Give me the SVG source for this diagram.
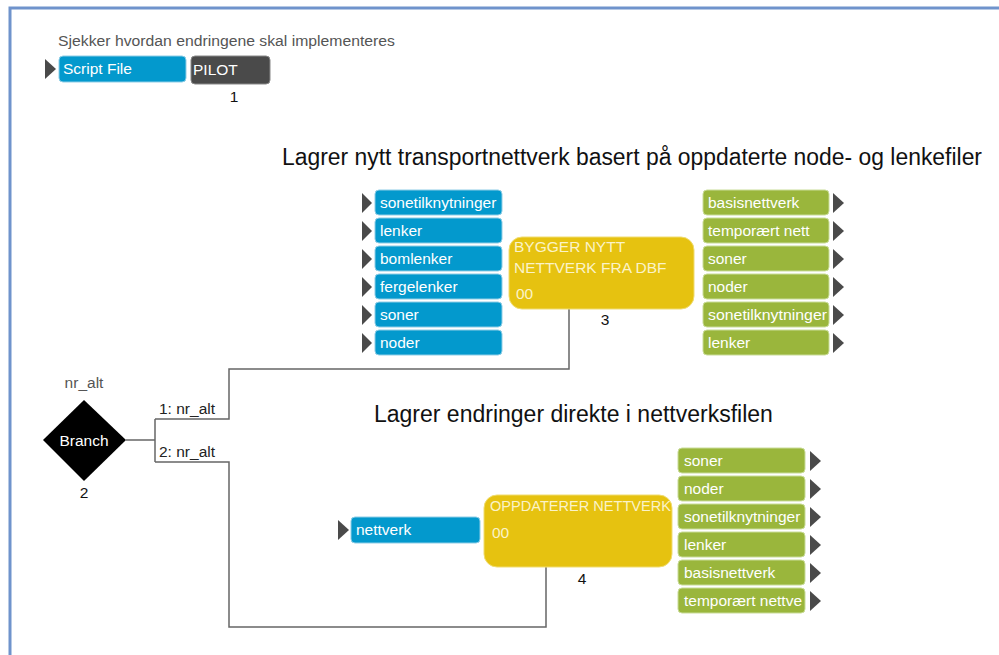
<svg xmlns="http://www.w3.org/2000/svg" width="999" height="655" viewBox="0 0 999 655">
<defs>
<style>
text{font-family:"Liberation Sans",Arial,sans-serif}
.frame{stroke:#6f93cc;stroke-width:3;fill:none}
.in{fill:#0399cd;stroke:#8fcde6;stroke-width:1}
.out{fill:#9ab63c;stroke:#c9dc98;stroke-width:1}
.proc{fill:#e6c210;stroke:#f0dc70;stroke-width:1}
.pilot{fill:#4a4a4a;stroke:#888;stroke-width:1}
.arr{fill:#4a4a4a}
.bt{fill:#fff;font-size:15.5px}
.pt{fill:#fbf3c8;font-size:15.5px}
.lbl{fill:#555;font-size:15.5px}
.num{fill:#111;font-size:15.5px;text-anchor:middle}
.title{fill:#111;font-size:23px}
.conn{stroke:#666;stroke-width:1.5;fill:none}
</style>
<clipPath id="clipT"><rect x="678" y="588" width="127" height="25"/></clipPath>
</defs>
<polyline class="frame" points="10,655 10,8 999,8"/>

<g id="connectors">
<polyline class="conn" points="126,440 155,440"/>
<polyline class="conn" points="155,419 155,462"/>
<polyline class="conn" points="155,419 229,419 229,369 569,369 569,309"/>
<polyline class="conn" points="155,462 229,462 229,627 546,627 546,567"/>
<text class="lbl" x="159" y="414" style="fill:#222">1: nr_alt</text>
<text class="lbl" x="159" y="457" style="fill:#222">2: nr_alt</text>
</g>

<g id="node1">
<text class="lbl" x="58" y="46" textLength="337" lengthAdjust="spacingAndGlyphs">Sjekker hvordan endringene skal implementeres</text>
<polygon class="arr" points="45,59 56,69 45,79"/>
<rect class="in" x="59" y="56" width="127" height="26" rx="4"/>
<text class="bt" x="63" y="74">Script File</text>
<rect class="pilot" x="191" y="56" width="79" height="28" rx="4"/>
<text class="bt" x="193" y="75">PILOT</text>
<text class="num" x="234" y="102">1</text>
</g>

<g id="node3">
<text class="title" x="282" y="165" textLength="700" lengthAdjust="spacingAndGlyphs">Lagrer nytt transportnettverk basert på oppdaterte node- og lenkefiler</text>
<polygon class="arr" points="362,193 372,203 362,213"/>
<rect class="in" x="375" y="190" width="127" height="25" rx="4"/>
<text class="bt" x="380" y="208">sonetilknytninger</text>
<polygon class="arr" points="362,221 372,231 362,241"/>
<rect class="in" x="375" y="218" width="127" height="25" rx="4"/>
<text class="bt" x="380" y="236">lenker</text>
<polygon class="arr" points="362,249 372,259 362,269"/>
<rect class="in" x="375" y="246" width="127" height="25" rx="4"/>
<text class="bt" x="380" y="264">bomlenker</text>
<polygon class="arr" points="362,277 372,287 362,297"/>
<rect class="in" x="375" y="274" width="127" height="25" rx="4"/>
<text class="bt" x="380" y="292">fergelenker</text>
<polygon class="arr" points="362,305 372,315 362,325"/>
<rect class="in" x="375" y="302" width="127" height="25" rx="4"/>
<text class="bt" x="380" y="320">soner</text>
<polygon class="arr" points="362,333 372,343 362,353"/>
<rect class="in" x="375" y="330" width="127" height="25" rx="4"/>
<text class="bt" x="380" y="348">noder</text>

<rect class="proc" x="509" y="237" width="185" height="72" rx="13"/>
<text class="pt" x="514" y="252">BYGGER NYTT</text>
<text class="pt" x="514" y="273">NETTVERK FRA DBF</text>
<text class="pt" x="516" y="299">00</text>
<text class="num" x="605" y="325">3</text>

<rect class="out" x="703" y="190" width="126" height="25" rx="4"/>
<text class="bt" x="708" y="208">basisnettverk</text>
<polygon class="arr" points="833,193 844,203 833,213"/>
<rect class="out" x="703" y="218" width="126" height="25" rx="4"/>
<text class="bt" x="708" y="236">temporært nett</text>
<polygon class="arr" points="833,221 844,231 833,241"/>
<rect class="out" x="703" y="246" width="126" height="25" rx="4"/>
<text class="bt" x="708" y="264">soner</text>
<polygon class="arr" points="833,249 844,259 833,269"/>
<rect class="out" x="703" y="274" width="126" height="25" rx="4"/>
<text class="bt" x="708" y="292">noder</text>
<polygon class="arr" points="833,277 844,287 833,297"/>
<rect class="out" x="703" y="302" width="126" height="25" rx="4"/>
<text class="bt" x="708" y="320" textLength="119" lengthAdjust="spacingAndGlyphs">sonetilknytninger</text>
<polygon class="arr" points="833,305 844,315 833,325"/>
<rect class="out" x="703" y="330" width="126" height="25" rx="4"/>
<text class="bt" x="708" y="348">lenker</text>
<polygon class="arr" points="833,333 844,343 833,353"/>
</g>

<g id="node2">
<text class="lbl" x="84" y="388" text-anchor="middle">nr_alt</text>
<polygon points="84,400 126,440 84,481 43,440" fill="#000"/>
<text class="bt" x="84" y="446" text-anchor="middle">Branch</text>
<text class="num" x="84" y="498">2</text>
</g>

<g id="node4">
<text class="title" x="374" y="422">Lagrer endringer direkte i nettverksfilen</text>
<polygon class="arr" points="338,520 349,530 338,540"/>
<rect class="in" x="351" y="517" width="129" height="26" rx="4"/>
<text class="bt" x="356" y="535">nettverk</text>

<rect class="proc" x="484" y="495" width="188" height="72" rx="13"/>
<text class="pt" x="490" y="511" textLength="181" lengthAdjust="spacingAndGlyphs">OPPDATERER NETTVERK</text>
<text class="pt" x="492" y="538">00</text>
<text class="num" x="582" y="584">4</text>

<rect class="out" x="678" y="448" width="127" height="25" rx="4"/>
<text class="bt" x="684" y="466">soner</text>
<polygon class="arr" points="810,451 821,461 810,471"/>
<rect class="out" x="678" y="476" width="127" height="25" rx="4"/>
<text class="bt" x="684" y="494">noder</text>
<polygon class="arr" points="810,479 821,489 810,499"/>
<rect class="out" x="678" y="504" width="127" height="25" rx="4"/>
<text class="bt" x="684" y="522">sonetilknytninger</text>
<polygon class="arr" points="810,507 821,517 810,527"/>
<rect class="out" x="678" y="532" width="127" height="25" rx="4"/>
<text class="bt" x="684" y="550">lenker</text>
<polygon class="arr" points="810,535 821,545 810,555"/>
<rect class="out" x="678" y="560" width="127" height="25" rx="4"/>
<text class="bt" x="684" y="578">basisnettverk</text>
<polygon class="arr" points="810,563 821,573 810,583"/>
<rect class="out" x="678" y="588" width="127" height="25" rx="4"/>
<text class="bt" x="684" y="606" clip-path="url(#clipT)">temporært nettve</text>
<polygon class="arr" points="810,591 821,601 810,611"/>
</g>
</svg>
